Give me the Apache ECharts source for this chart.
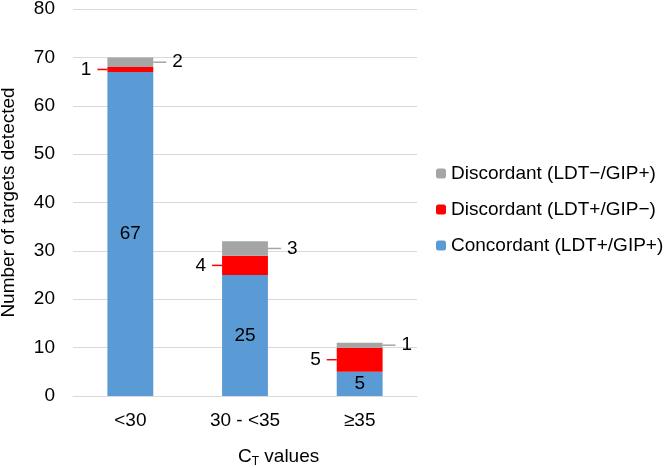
<!DOCTYPE html>
<html><head><meta charset="utf-8">
<script src="https://cdn.jsdelivr.net/npm/echarts@6/dist/echarts.min.js"></script>
<style>html,body{margin:0;padding:0;background:#fff}#c{width:666px;height:468px}</style>
</head><body><div id="c"></div>
<script>
const categories = ['<30', '30 - <35', '≥35'];
const concordant = [67, 25, 5];
const discordantPos = [1, 4, 5];   // LDT+/GIP−
const discordantNeg = [2, 3, 1];   // LDT−/GIP+
const yTicks = [0, 10, 20, 30, 40, 50, 60, 70, 80];
const names = ['Concordant (LDT+/GIP+)', 'Discordant (LDT+/GIP−)', 'Discordant (LDT−/GIP+)'];

const FONT = 'Liberation Sans, Arial, sans-serif';
const FS = 19;
const chart = echarts.init(document.getElementById('c'));
chart.setOption({
  animation: false,
  textStyle: { fontFamily: FONT },
  grid: { left: 73, right: 249, top: 9, bottom: 72, containLabel: false, outerBoundsMode: 'none' },
  legend: {
    orient: 'vertical', left: 431, top: 159, itemWidth: 10, itemHeight: 10, itemGap: 17,
    data: [names[2], names[1], names[0]],
    textStyle: { fontSize: FS, color: '#000', fontFamily: FONT }
  },
  xAxis: {
    type: 'category', data: categories,
    axisLine: { lineStyle: { color: '#D9D9D9' } },
    axisTick: { show: false },
    axisLabel: { fontSize: FS, color: '#000', margin: 15 }
  },
  yAxis: {
    type: 'value', min: yTicks[0], max: yTicks[yTicks.length - 1], interval: 10,
    name: 'Number of targets detected', nameLocation: 'middle', nameGap: 55,
    nameTextStyle: { fontSize: FS, color: '#000' },
    axisLine: { show: false }, axisTick: { show: false },
    axisLabel: { fontSize: FS, color: '#000', margin: 18 },
    splitLine: { lineStyle: { color: '#D9D9D9' } }
  },
  graphic: [{
    type: 'text', left: 238, top: 447,
    style: {
      text: '{a|C}{s|T}{a| values}',
      rich: {
        a: { fontSize: FS, fill: '#000', fontFamily: FONT },
        s: { fontSize: 12, fill: '#000', fontFamily: FONT, padding: [10, 0, 0, 0] }
      }
    }
  }],
  series: [
    {
      name: names[0], type: 'bar', stack: 't', data: concordant, barWidth: '40%',
      itemStyle: { color: '#5B9BD5' },
      label: { show: true, position: 'inside', fontSize: FS, color: '#000' }
    },
    {
      name: names[1], type: 'bar', stack: 't', data: discordantPos,
      itemStyle: { color: '#FF0000' },
      label: {
        show: true, position: 'left', distance: 0,
        formatter: p => '{t|' + p.value + '}{l|}',
        rich: {
          t: { fontSize: FS, color: '#000', padding: [0, 6, 0, 0] },
          l: { width: 10, height: 1.5, backgroundColor: '#FF0000' }
        }
      }
    },
    {
      name: names[2], type: 'bar', stack: 't', data: discordantNeg,
      itemStyle: { color: '#A5A5A5' },
      label: {
        show: true, position: 'right', distance: 0,
        formatter: p => '{l|}{t|' + p.value + '}',
        rich: {
          t: { fontSize: FS, color: '#000', padding: [0, 0, 0, 6] },
          l: { width: 13, height: 1.5, backgroundColor: '#A5A5A5' }
        }
      }
    }
  ]
});
</script></body></html>
